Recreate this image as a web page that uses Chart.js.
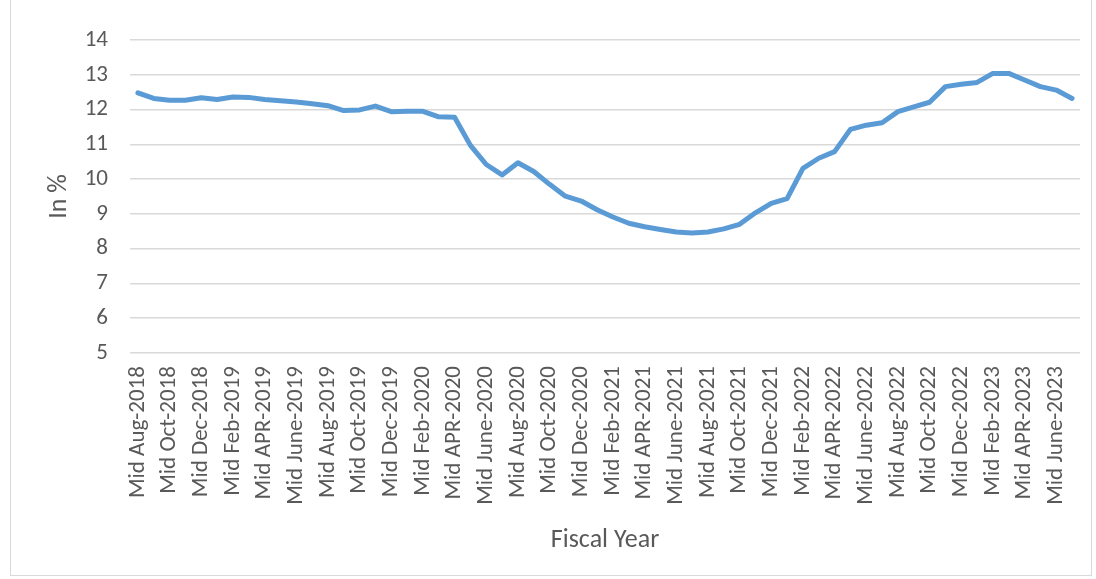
<!DOCTYPE html>
<html>
<head>
<meta charset="utf-8">
<script src="https://cdn.jsdelivr.net/npm/chart.js@4.4.0/dist/chart.umd.min.js"></script>
<style>
  html, body { margin: 0; padding: 0; background: #ffffff; }
  #wrap { position: relative; width: 1096px; height: 579px; }
  #frame { position: absolute; left: 10px; top: -1px; width: 1082px; height: 577px;
           border: 1px solid #d9d9d9; box-sizing: border-box; pointer-events: none; }
  canvas { position: absolute; left: 0; top: 0; }
</style>
</head>
<body>
<div id="wrap">
  <canvas id="c" width="1096" height="579"></canvas>
  <div id="frame"></div>
</div>
<script>
const months = [
  "Mid Aug-2018","Mid Sep-2018","Mid Oct-2018","Mid Nov-2018","Mid Dec-2018",
  "Mid Jan-2019","Mid Feb-2019","Mid Mar-2019","Mid APR-2019","Mid May-2019","Mid June-2019",
  "Mid July-2019","Mid Aug-2019","Mid Sep-2019","Mid Oct-2019","Mid Nov-2019","Mid Dec-2019",
  "Mid Jan-2020","Mid Feb-2020","Mid Mar-2020","Mid APR-2020","Mid May-2020","Mid June-2020",
  "Mid July-2020","Mid Aug-2020","Mid Sep-2020","Mid Oct-2020","Mid Nov-2020","Mid Dec-2020",
  "Mid Jan-2021","Mid Feb-2021","Mid Mar-2021","Mid APR-2021","Mid May-2021","Mid June-2021",
  "Mid July-2021","Mid Aug-2021","Mid Sep-2021","Mid Oct-2021","Mid Nov-2021","Mid Dec-2021",
  "Mid Jan-2022","Mid Feb-2022","Mid Mar-2022","Mid APR-2022","Mid May-2022","Mid June-2022",
  "Mid July-2022","Mid Aug-2022","Mid Sep-2022","Mid Oct-2022","Mid Nov-2022","Mid Dec-2022",
  "Mid Jan-2023","Mid Feb-2023","Mid Mar-2023","Mid APR-2023","Mid May-2023","Mid June-2023",
  "Mid July-2023"
];
const rates = [
  12.48, 12.32, 12.27, 12.27, 12.34, 12.29, 12.36, 12.35, 12.29, 12.25,
  12.22, 12.17, 12.11, 11.97, 11.99, 12.10, 11.94, 11.95, 11.95, 11.79,
  11.78, 10.97, 10.42, 10.12, 10.47, 10.22, 9.85, 9.51, 9.37, 9.12,
  8.91, 8.73, 8.63, 8.55, 8.48, 8.45, 8.48, 8.57, 8.70, 9.03,
  9.30, 9.44, 10.31, 10.60, 10.79, 11.43, 11.55, 11.62, 11.94, 12.08,
  12.21, 12.66, 12.73, 12.78, 13.04, 13.04, 12.85, 12.66, 12.56, 12.32
];
const yTicks = [5, 6, 7, 8, 9, 10, 11, 12, 13, 14];
const yTitle = "In %";
const xTitle = "Fiscal Year";

const FONT = "Carlito, Calibri, Lato, 'Liberation Sans', sans-serif";
const TXT = "#595959";
const GRID = "#d9d9d9";

new Chart(document.getElementById("c"), {
  type: "line",
  data: {
    labels: months,
    datasets: [{
      data: rates,
      borderColor: "#5b9bd5",
      borderWidth: 5,
      pointRadius: 0,
      tension: 0,
      fill: false,
      borderJoinStyle: "round",
      borderCapStyle: "round"
    }]
  },
  options: {
    responsive: false,
    animation: false,
    layout: { padding: { left: 44, top: 40, right: 16, bottom: 23 } },
    plugins: { legend: { display: false }, tooltip: { enabled: false } },
    scales: {
      x: {
        type: "category",
        offset: true,
        grid: { display: false, drawTicks: false },
        border: { display: false },
        ticks: {
          autoSkip: false,
          maxRotation: 90,
          minRotation: 90,
          padding: 13,
          color: TXT,
          font: { family: FONT, size: 23 },
          callback: function (v, i) { return i % 2 === 0 ? months[i] : ""; }
        },
        title: { display: true, text: xTitle, color: TXT, padding: 0,
                 font: { family: FONT, size: 26 } },
        afterFit: function (s) { s.height = 579 - 23 - 353; s.paddingLeft = 0; s.paddingRight = 0; }
      },
      y: {
        min: 5,
        max: 14,
        afterBuildTicks: function (s) { s.ticks = yTicks.map(v => ({ value: v })); },
        grid: { color: GRID, lineWidth: 1.5, drawTicks: false },
        border: { display: false },
        ticks: {
          padding: 22,
          color: TXT,
          font: { family: FONT, size: 23 }
        },
        title: { display: true, text: yTitle, color: TXT, padding: 0,
                 font: { family: FONT, size: 26 } },
        afterFit: function (s) { s.width = 130 - 44; s.paddingTop = 0; s.paddingBottom = 0; }
      }
    }
  }
});
</script>
</body>
</html>
